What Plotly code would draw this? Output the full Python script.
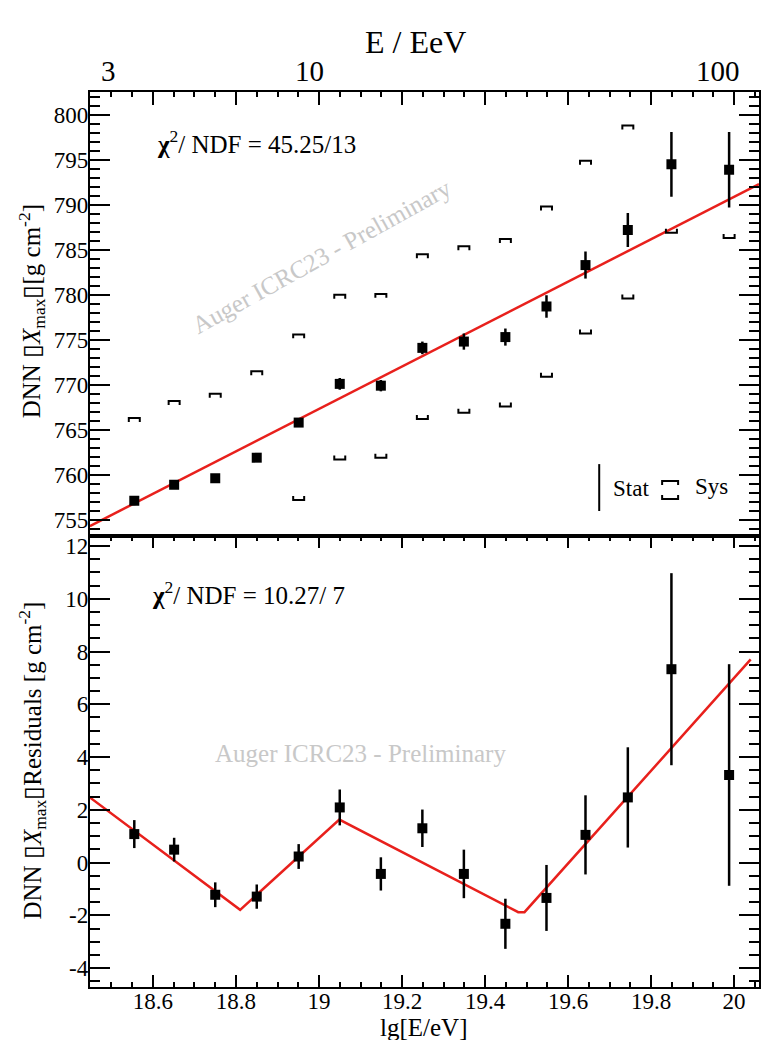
import plotly.graph_objects as go

# ---------------- data ----------------
lgE = [18.555, 18.651, 18.750, 18.850, 18.951, 19.050, 19.149, 19.249,
       19.349, 19.449, 19.548, 19.642, 19.744, 19.849, 19.988]
xmax_mean = [757.1, 758.9, 759.6, 761.9, 765.8, 770.1, 769.9, 774.1,
             774.8, 775.3, 778.7, 783.3, 787.2, 794.5, 793.9]
xmax_stat = [0.5, 0.45, 0.45, 0.45, 0.47, 0.65, 0.63, 0.7,
             0.9, 0.95, 1.25, 1.5, 1.9, 3.6, 4.2]
sys_upper = [766.3, 768.2, 769.0, 771.5, 775.6, 780.0, 780.1, 784.5,
             785.4, 786.2, 789.8, 794.9, 798.8, None, None]
sys_lower = [None, None, None, None, 757.2, 761.7, 761.9, 766.2,
             766.9, 767.6, 770.9, 775.7, 779.6, 786.9, 786.3]

fit_lgE = [18.448, 20.06]
fit_xmax = [754.3, 792.3]

residual = [1.08, 0.49, -1.22, -1.29, 0.23, 2.09, -0.43, 1.30,
            -0.43, -2.32, -1.34, 1.05, 2.47, 7.33, 3.32]
residual_err = [0.53, 0.45, 0.47, 0.46, 0.47, 0.68, 0.63, 0.71,
                0.92, 0.95, 1.25, 1.5, 1.9, 3.64, 4.2]

res_fit_lgE = [18.448, 18.810, 19.049, 19.480, 19.495, 20.040]
res_fit_val = [2.47, -1.79, 1.63, -1.88, -1.88, 7.70]

res_tickvals = [-4, -2, 0, 2, 4, 6, 8, 10, 12]
res_ticktext = ["-4", "-2", "0", "2", "4", "6", "8", "10", "12"]
top_tick_labels = ["3", "10", "100"]
chi2_top = "45.25/13"
chi2_bottom = "10.27/ 7"

# ---------------- style ----------------
W, H = 761, 1040
FONT = "Liberation Serif"
RED = "#e8201c"
X_RANGE = [18.448, 20.06]
Y1_RANGE = [753.2, 802.55]
Y2_RANGE = [-4.72, 12.38]
LEFT_PX, RIGHT_PX = 90, 760
TOP_PX, MID_PX, BOT_PX = 90, 535, 987


def px(x):
    return x / W


def py(y):
    return 1 - y / H


# bracket geometry (style) in data units
plot_w = RIGHT_PX - LEFT_PX
hw = 5.5 * (X_RANGE[1] - X_RANGE[0]) / plot_w
leg = 4.0 * (Y1_RANGE[1] - Y1_RANGE[0]) / (MID_PX - TOP_PX)


def brackets(xs, ys, direction):
    bx, by = [], []
    for x, y in zip(xs, ys):
        if y is None:
            continue
        bx += [x - hw, x - hw, x + hw, x + hw, None]
        by += [y + direction * leg, y, y, y + direction * leg, None]
    return bx, by


fig = go.Figure()

# top panel: fit line
fig.add_trace(go.Scatter(x=fit_lgE, y=fit_xmax, mode="lines",
                         line=dict(color=RED, width=2.5),
                         xaxis="x", yaxis="y", showlegend=False))
# sys brackets
ux, uy = brackets(lgE, sys_upper, -1)
lx, ly = brackets(lgE, sys_lower, +1)
fig.add_trace(go.Scatter(x=ux, y=uy, mode="lines", line=dict(color="black", width=2),
                         xaxis="x", yaxis="y", showlegend=False))
fig.add_trace(go.Scatter(x=lx, y=ly, mode="lines", line=dict(color="black", width=2),
                         xaxis="x", yaxis="y", showlegend=False))
# data points
fig.add_trace(go.Scatter(x=lgE, y=xmax_mean, mode="markers",
                         marker=dict(symbol="square", size=10, color="black"),
                         error_y=dict(type="data", array=xmax_stat, visible=True,
                                      thickness=2.5, width=0, color="black"),
                         xaxis="x", yaxis="y", showlegend=False))

# bottom panel
fig.add_trace(go.Scatter(x=res_fit_lgE, y=res_fit_val, mode="lines",
                         line=dict(color=RED, width=2.5),
                         xaxis="x2", yaxis="y2", showlegend=False))
fig.add_trace(go.Scatter(x=lgE, y=residual, mode="markers",
                         marker=dict(symbol="square", size=10, color="black"),
                         error_y=dict(type="data", array=residual_err, visible=True,
                                      thickness=2.5, width=0, color="black"),
                         xaxis="x2", yaxis="y2", showlegend=False))


def axis_common():
    return dict(showgrid=False, zeroline=False, showline=True, linecolor="black",
                linewidth=2, ticks="inside", tickcolor="black", tickwidth=1.5,
                tickfont=dict(family=FONT, size=23, color="black"))


xdom = [px(LEFT_PX), px(RIGHT_PX)]
fig.update_layout(
    width=W, height=H, margin=dict(l=0, r=0, t=0, b=0),
    paper_bgcolor="white", plot_bgcolor="white",
    font=dict(family=FONT, color="black"),
    xaxis=dict(**axis_common(), domain=xdom, anchor="y", range=X_RANGE, side="top",
               tick0=18.0, dtick=0.2, ticklen=13, mirror=True, showticklabels=False,
               minor=dict(dtick=0.05, ticklen=5, tickwidth=1.5, tickcolor="black", ticks="inside")),
    yaxis=dict(**axis_common(), domain=[py(MID_PX), py(TOP_PX)], anchor="x", range=Y1_RANGE,
               tick0=755, dtick=5, ticklen=20, mirror="ticks", ticklabelstandoff=-5,
               minor=dict(dtick=1, ticklen=10, tickwidth=1.5, tickcolor="black", ticks="inside")),
    xaxis2=dict(**axis_common(), domain=xdom, anchor="y2", range=X_RANGE,
                tick0=18.0, dtick=0.2, ticklen=12, mirror="ticks", ticklabelstandoff=-8,
                minor=dict(dtick=0.05, ticklen=5, tickwidth=1.5, tickcolor="black", ticks="inside")),
    yaxis2=dict(**axis_common(), domain=[py(BOT_PX), py(MID_PX)], anchor="x2", range=Y2_RANGE,
                tickmode="array", tickvals=res_tickvals, ticktext=res_ticktext,
                ticklen=20, mirror="ticks", ticklabelstandoff=-5,
                minor=dict(dtick=0.5, ticklen=10, tickwidth=1.5, tickcolor="black", ticks="inside")),
)

ann = []


def text(x, y, t, size, color="black", angle=0, xanchor="center", family=FONT):
    ann.append(dict(x=px(x), y=py(y), xref="paper", yref="paper", text=t,
                    showarrow=False, xanchor=xanchor, yanchor="middle", textangle=angle,
                    font=dict(family=family, size=size, color=color)))


# top energy axis
text(416, 40, "E / EeV", 32)
for lab, xpos in zip(top_tick_labels, [109, 310, 719]):
    text(xpos, 69, lab, 29)

# y titles
text(32, 310, "DNN ▯<i>X</i><sub>max</sub>▯[g cm<sup>-2</sup>]", 25, angle=-90)
text(32, 760, "DNN ▯<i>X</i><sub>max</sub>▯Residuals [g cm<sup>-2</sup>]", 25, angle=-90)
# x title
text(424, 1027, "lg[E/eV]", 25)

# chi2
text(155, 140, "<b>χ</b><sup>2</sup>/ NDF = " + chi2_top, 25, xanchor="left")
text(150, 592, "<b>χ</b><sup>2</sup>/ NDF = " + chi2_bottom, 25, xanchor="left")

# watermarks
text(322, 255, "Auger ICRC23 - Preliminary", 25, color="#c8c8c8", angle=-29)
text(361, 753, "Auger ICRC23 - Preliminary", 25, color="#c8c8c8")

# legend
text(612, 487, "Stat", 23, xanchor="left")
text(694, 485, "Sys", 23, xanchor="left")

shapes = [
    dict(type="line", xref="paper", yref="paper", x0=px(600), x1=px(600), y0=py(463), y1=py(510),
         line=dict(color="black", width=2)),
    dict(type="path", xref="paper", yref="paper",
         path=f"M {px(663)} {py(484)} L {px(663)} {py(480)} L {px(679)} {py(480)} L {px(679)} {py(484)}",
         line=dict(color="black", width=2)),
    dict(type="path", xref="paper", yref="paper",
         path=f"M {px(663)} {py(494)} L {px(663)} {py(498)} L {px(679)} {py(498)} L {px(679)} {py(494)}",
         line=dict(color="black", width=2)),
]

fig.update_layout(annotations=ann, shapes=shapes)
fig.write_html("out.html")
